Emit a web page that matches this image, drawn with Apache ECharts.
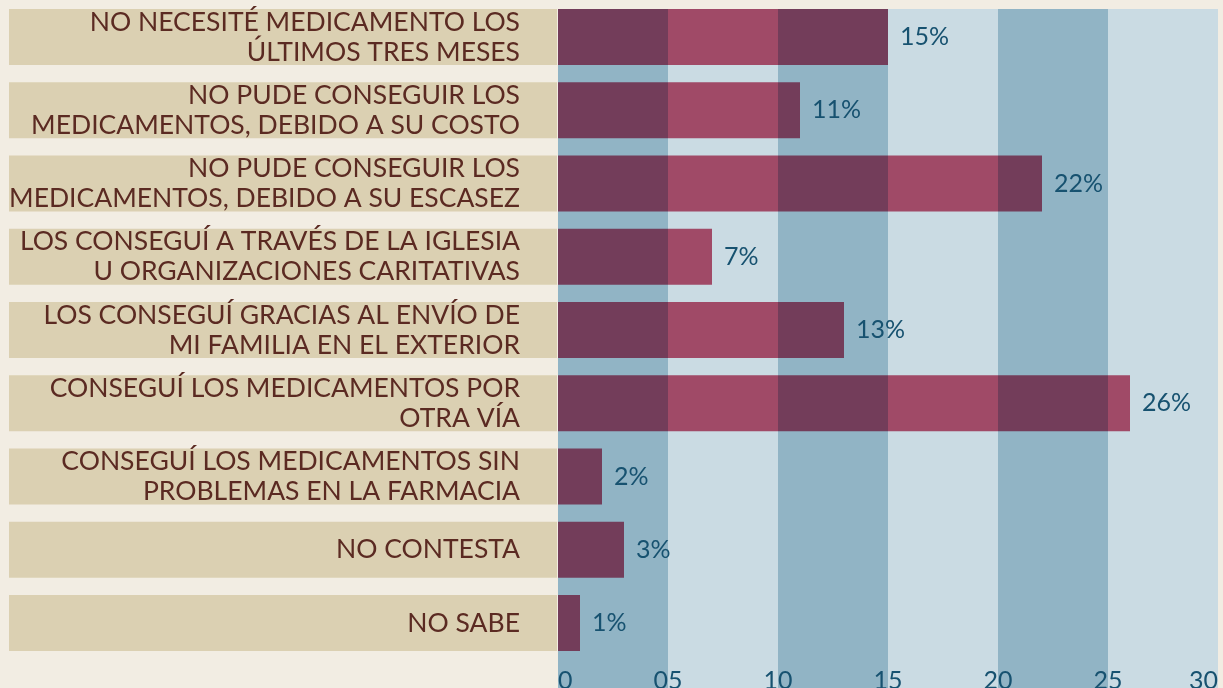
<!DOCTYPE html>
<html>
<head>
<meta charset="utf-8">
<script src="https://cdn.jsdelivr.net/npm/echarts@6/dist/echarts.min.js"></script>
<style>
    html, body { margin: 0; padding: 0; background: #f2ede3; }
    #chart { width: 1223px; height: 688px; }
</style>
</head>
<body>
<div id="chart"></div>
<script>
// categorías (de arriba a abajo)
const categories = [
    'NO NECESITÉ MEDICAMENTO LOS\nÚLTIMOS TRES MESES',
    'NO PUDE CONSEGUIR LOS\nMEDICAMENTOS, DEBIDO A SU COSTO',
    'NO PUDE CONSEGUIR LOS\nMEDICAMENTOS, DEBIDO A SU ESCASEZ',
    'LOS CONSEGUÍ A TRAVÉS DE LA IGLESIA\nU ORGANIZACIONES CARITATIVAS',
    'LOS CONSEGUÍ GRACIAS AL ENVÍO DE\nMI FAMILIA EN EL EXTERIOR',
    'CONSEGUÍ LOS MEDICAMENTOS POR\nOTRA VÍA',
    'CONSEGUÍ LOS MEDICAMENTOS SIN\nPROBLEMAS EN LA FARMACIA',
    'NO CONTESTA',
    'NO SABE',
]
const values = [15, 11, 22, 7, 13, 26, 2, 3, 1] // porcentaje
const xTickLabels = ['0', '05', '10', '15', '20', '25', '30']

const FONT = 'Lato'
const chart = echarts.init(document.getElementById('chart'))

const option = {
    backgroundColor: '#f2ede3',
    animation: false,
    grid: [
        // barras
        { left: 558, right: 5, top: 0.4, height: 659.2, outerBoundsMode: 'none' },
        // franjas de fondo
        { left: 558, right: 5, top: 9, bottom: 0, outerBoundsMode: 'none' },
    ],
    xAxis: [
        {
            gridIndex: 0,
            type: 'value',
            min: 0,
            max: 30,
            interval: 5,
            axisLine: { show: false },
            axisTick: { show: false },
            splitLine: { show: false },
            axisLabel: {
                margin: 9,
                color: '#175270',
                fontFamily: FONT,
                fontSize: 25,
                verticalAlign: 'top',
                alignMinLabel: 'left',
                alignMaxLabel: 'right',
                formatter: (v) => xTickLabels[Math.round(v / 5)],
            },
        },
        {
            gridIndex: 1,
            type: 'value',
            min: 0,
            max: 30,
            interval: 5,
            axisLine: { show: false },
            axisTick: { show: false },
            axisLabel: { show: false },
            splitLine: { show: false },
            splitArea: {
                show: true,
                areaStyle: { color: ['#91b4c5', '#cadbe3'] },
            },
        },
    ],
    yAxis: [
        {
            gridIndex: 0,
            type: 'category',
            data: categories,
            inverse: true,
            axisLine: { show: false },
            axisTick: { show: false },
            axisLabel: {
                interval: 0,
                margin: 1,
                color: '#5b2a22',
                fontFamily: FONT,
                fontSize: 26.5,
                lineHeight: 30,
                align: 'right',
                verticalAlign: 'middle',
                backgroundColor: '#dbd0b2',
                width: 511,
                height: 56,
                padding: [0, 37, 0, 0],
            },
        },
        {
            gridIndex: 1,
            type: 'category',
            data: [''],
            show: false,
        },
    ],
    series: [
        {
            type: 'bar',
            xAxisIndex: 0,
            yAxisIndex: 0,
            data: values,
            barWidth: 56,
            blendMode: 'multiply',
            itemStyle: { color: '#ca5674' },
        },
        {
            // solo etiquetas
            type: 'bar',
            xAxisIndex: 0,
            yAxisIndex: 0,
            data: values,
            barWidth: 56,
            barGap: '-100%',
            itemStyle: { color: 'rgba(0,0,0,0)' },
            label: {
                show: true,
                position: 'right',
                distance: 12,
                color: '#175270',
                fontFamily: FONT,
                fontSize: 25,
                formatter: (p) => p.value + '%',
            },
        },
    ],
}
chart.setOption(option)
</script>
</body>
</html>
